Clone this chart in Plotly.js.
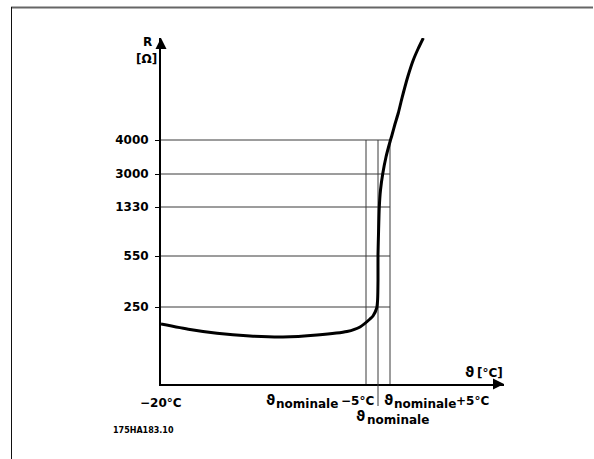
<!DOCTYPE html>
<html>
<head>
<meta charset="utf-8">
<script src="https://cdn.plot.ly/plotly-3.0.1.min.js"></script>
<style>
  html, body { margin: 0; padding: 0; background: #fff; }
  #chart { width: 594px; height: 459px; }
</style>
</head>
<body>
<div id="chart"></div>
<script>
// ---- Data (schematic units) ----
// Vertical axis: resistance levels (schematic, non-linear scale)
const yTickLabels = ['250', '550', '1330', '3000', '4000'];
const yTickPos    = [77, 128, 177, 210, 244];

// Horizontal axis: temperature marks (schematic)
const xMarkLabels = ['−20°C', 'ϑnominale −5°C', 'ϑnominale', 'ϑnominale+5°C'];
const xMarkPos    = [0, 205, 217, 229];

// PTC characteristic curve R(ϑ)
const curveX = [0, 29, 56, 89, 122, 156, 186, 199, 209, 212, 215.7, 216.6, 217, 217, 217.6, 218.3, 219.5, 221.7, 225, 229.5, 231, 234, 237.3, 240, 242.3, 247, 252.3, 257, 262.3];
const curveY = [60, 54.5, 50.7, 48, 47, 49, 52.5, 57, 65, 68, 76, 84, 104, 129, 154, 177, 194, 210, 227, 244, 249, 260, 271, 282, 291, 308, 324, 335, 346];

const xRange = [0, 343];
const yRange = [0, 346];

// ---- Layout geometry ----
const W = 594, H = 459;
const M = { l: 161, r: 90, t: 38, b: 75 };
const PW = W - M.l - M.r, PH = H - M.t - M.b;
const pxX = px => (px - M.l) / PW;          // pixel -> paper x
const pxY = py => (H - M.b - py) / PH;      // pixel -> paper y

const FONT = { family: 'DejaVu Sans, Arial, sans-serif', size: 12, color: '#000', weight: 'bold' };
const FONT_TH = { family: 'DejaVu Sans, Arial, sans-serif', size: 14, color: '#000', weight: 'bold' };
const GRID = '#3a3a3a';

const traces = [];

// horizontal reference lines at each resistance level
yTickPos.forEach(v => {
  traces.push({
    x: [xMarkPos[0], xMarkPos[3]], y: [v, v],
    mode: 'lines', line: { color: GRID, width: 1 },
    hoverinfo: 'skip', showlegend: false
  });
});
// vertical reference lines at the temperature marks
xMarkPos.slice(1).forEach(v => {
  traces.push({
    x: [v, v], y: [0, yTickPos[yTickPos.length - 1]],
    mode: 'lines', line: { color: GRID, width: 1 },
    hoverinfo: 'skip', showlegend: false
  });
});
// the curve
traces.push({
  x: curveX, y: curveY,
  mode: 'lines', line: { color: '#000', width: 3, shape: 'spline', smoothing: 0.6 },
  hoverinfo: 'skip', showlegend: false
});
// axis arrow heads
traces.push({
  x: [xRange[1], xRange[0]], y: [yRange[0], yRange[1]],
  mode: 'markers',
  marker: { symbol: ['arrow-right', 'arrow-up'], size: 11, color: '#000', line: { width: 0 } },
  cliponaxis: false, hoverinfo: 'skip', showlegend: false
});

// split "ϑnominale…" labels into pieces: symbol, lowered index, suffix
function parts(label) {
  if (label.charAt(0) !== 'ϑ') return { sym: '', idx: '', suf: label };
  const rest = label.slice(1);
  const idx = 'nominale';
  return { sym: 'ϑ', idx: idx, suf: rest.slice(idx.length).trim() };
}

const ann = (o) => Object.assign({ showarrow: false, yanchor: 'middle', borderpad: 0, font: FONT }, o);
const annotations = [
  // axis titles
  ann({ xref: 'paper', yref: 'paper', x: 0, y: 1, xanchor: 'center', xshift: -14, yshift: -4, text: 'R' }),
  ann({ xref: 'paper', yref: 'paper', x: 0, y: 1, xanchor: 'center', xshift: -15, yshift: -21, text: '[Ω]' }),
  ann({ xref: 'paper', yref: 'paper', x: 1, y: 0, xanchor: 'right', xshift: -29, yshift: 12, text: 'ϑ', font: FONT_TH }),
  ann({ xref: 'paper', yref: 'paper', x: 1, y: 0, xanchor: 'right', xshift: 0, yshift: 11, text: '[°C]' }),
  // −20°C
  ann({ xref: 'x', yref: 'paper', x: xMarkPos[0], y: 0, xanchor: 'center', yshift: -19, text: xMarkLabels[0] })
];

// ϑnominale −5°C (right-aligned to the left of its line)
{
  const p = parts(xMarkLabels[1]);
  annotations.push(ann({ xref: 'x', yref: 'paper', x: xMarkPos[1], y: 0, xanchor: 'right', xshift: 9, yshift: -17, text: p.suf }));
  annotations.push(ann({ xref: 'x', yref: 'paper', x: xMarkPos[1], y: 0, xanchor: 'right', xshift: -27, yshift: -20, text: p.idx }));
  annotations.push(ann({ xref: 'x', yref: 'paper', x: xMarkPos[1], y: 0, xanchor: 'right', xshift: -90, yshift: -16, text: p.sym, font: FONT_TH }));
}
// ϑnominale (below, next to its leader)
{
  const p = parts(xMarkLabels[2]);
  annotations.push(ann({ xref: 'x', yref: 'paper', x: xMarkPos[2], y: 0, xanchor: 'left', xshift: -23, yshift: -32, text: p.sym, font: FONT_TH }));
  annotations.push(ann({ xref: 'x', yref: 'paper', x: xMarkPos[2], y: 0, xanchor: 'left', xshift: -12, yshift: -36, text: p.idx }));
}
// ϑnominale+5°C (left-aligned at its line)
{
  const p = parts(xMarkLabels[3]);
  annotations.push(ann({ xref: 'x', yref: 'paper', x: xMarkPos[3], y: 0, xanchor: 'left', xshift: -7, yshift: -16, text: p.sym, font: FONT_TH }));
  annotations.push(ann({ xref: 'x', yref: 'paper', x: xMarkPos[3], y: 0, xanchor: 'left', xshift: 3, yshift: -20, text: p.idx }));
  annotations.push(ann({ xref: 'x', yref: 'paper', x: xMarkPos[3], y: 0, xanchor: 'left', xshift: 65, yshift: -17, text: p.suf }));
}
// drawing number
annotations.push(ann({ xref: 'paper', yref: 'paper', x: 0, y: 0, xanchor: 'left', xshift: -49, yshift: -46,
  text: '175HA183.10', font: { family: FONT.family, size: 8, color: '#000', weight: 'bold' } }));

const shapes = [
  // leader of the middle mark below the axis
  { type: 'line', xref: 'x', yref: 'paper', x0: xMarkPos[2], x1: xMarkPos[2], y0: 0, y1: pxY(406),
    line: { color: GRID, width: 1 } },
  // page frame (top and left edges)
  { type: 'line', xref: 'paper', yref: 'paper', x0: pxX(11), x1: pxX(593), y0: pxY(7.5), y1: pxY(7.5),
    line: { color: '#666', width: 2 } },
  { type: 'line', xref: 'paper', yref: 'paper', x0: pxX(11.5), x1: pxX(11.5), y0: pxY(7), y1: pxY(460),
    line: { color: '#111', width: 1 } }
];

const layout = {
  width: W, height: H,
  margin: M,
  paper_bgcolor: '#fff', plot_bgcolor: '#fff',
  showlegend: false,
  font: FONT,
  xaxis: {
    range: xRange, showgrid: false, zeroline: false,
    showline: true, linewidth: 2, linecolor: '#000',
    showticklabels: false, ticks: '', fixedrange: true
  },
  yaxis: {
    range: yRange, showgrid: false, zeroline: false,
    showline: true, linewidth: 2, linecolor: '#000',
    tickmode: 'array', tickvals: yTickPos, ticktext: yTickLabels,
    ticks: 'outside', ticklen: 4, tickwidth: 1, tickcolor: '#000',
    ticklabelstandoff: 4,
    tickfont: FONT, fixedrange: true
  },
  annotations: annotations,
  shapes: shapes
};

Plotly.newPlot('chart', traces, layout, { staticPlot: true, displayModeBar: false });
</script>
</body>
</html>
